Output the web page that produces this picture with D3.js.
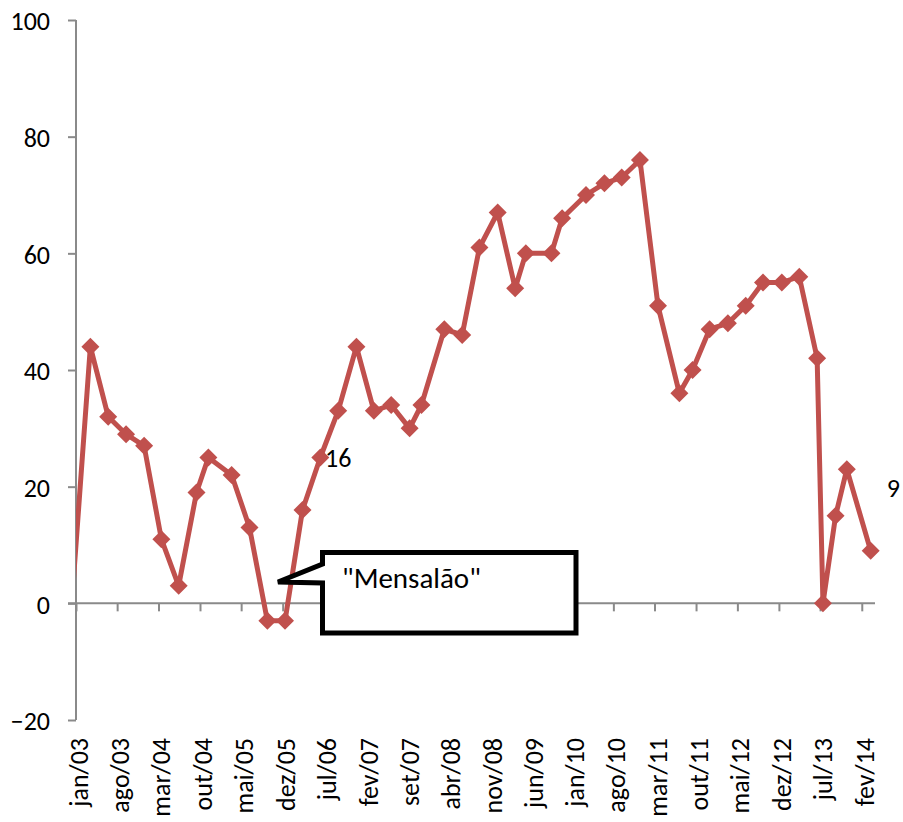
<!DOCTYPE html>
<html>
<head>
<meta charset="utf-8">
<script src="https://cdn.jsdelivr.net/npm/d3@7"></script>
<style>
  html, body { margin: 0; padding: 0; background: #ffffff; }
  svg { display: block; }
  text { font-family: Calibri, Carlito, "Open Sans", sans-serif; fill: #000; }
</style>
</head>
<body>
<svg id="chart" width="903" height="822"></svg>
<script>
// ---------- DATA ----------
const pollDates = [
  "2002-11-16", "2003-03-16", "2003-06-16", "2003-09-16", "2003-12-18",
  "2004-03-16", "2004-06-13", "2004-09-13", "2004-11-13", "2005-03-13",
  "2005-06-13", "2005-09-13", "2005-12-13", "2006-03-13", "2006-06-13",
  "2006-09-13", "2006-12-16", "2007-03-16", "2007-06-13", "2007-09-16",
  "2007-11-16", "2008-03-13", "2008-06-13", "2008-09-10", "2008-12-13",
  "2009-03-13", "2009-05-07", "2009-09-16", "2009-11-10", "2010-03-13",
  "2010-06-16", "2010-09-13", "2010-12-16", "2011-03-19", "2011-07-07",
  "2011-09-13", "2011-12-10", "2012-03-13", "2012-06-13", "2012-09-10",
  "2012-12-16", "2013-03-16", "2013-06-16", "2013-07-16", "2013-09-19",
  "2013-11-16", "2014-03-19"
];
const netApproval = [
  -11, 44, 32, 29, 27,
  11, 3, 19, 25, 22,
  13, -3, -3, 16, 25,
  33, 44, 33, 34, 30,
  34, 47, 46, 61, 67,
  54, 60, 60, 66, 70,
  72, 73, 76, 51, 36,
  40, 47, 48, 51, 55,
  55, 56, 42, 0, 15,
  23, 9
];
const tickDates = [
  "2003-01-01", "2003-08-01", "2004-03-01", "2004-10-01", "2005-05-01",
  "2005-12-01", "2006-07-01", "2007-02-01", "2007-09-01", "2008-04-01",
  "2008-11-01", "2009-06-01", "2010-01-01", "2010-08-01", "2011-03-01",
  "2011-10-01", "2012-05-01", "2012-12-01", "2013-07-01", "2014-02-01"
];
const tickLabels = [
  "jan/03", "ago/03", "mar/04", "out/04", "mai/05",
  "dez/05", "jul/06", "fev/07", "set/07", "abr/08",
  "nov/08", "jun/09", "jan/10", "ago/10", "mar/11",
  "out/11", "mai/12", "dez/12", "jul/13", "fev/14"
];
const yTicks = [-20, 0, 20, 40, 60, 80, 100];
const xDomain = ["2003-01-01", "2014-04-05"];
const yDomain = [-20, 100];
const calloutText = "\"Mensalão\"";
const strayLabel = "16";
const lastLabel = "9";

// ---------- SETUP ----------
const parse = d3.timeParse("%Y-%m-%d");
const points = pollDates.map((d, i) => ({ date: parse(d), value: netApproval[i] }));

const svg = d3.select("#chart");
const pLeft = 76, pRight = 874, pTop = 20, pBottom = 720;

const x = d3.scaleTime().domain(xDomain.map(parse)).range([pLeft, pRight]);
const y = d3.scaleLinear().domain(yDomain).range([pBottom, pTop]);

const axisColor = "#8a8a8a";
const lineColor = "#C0504D";
const fontSize = "26px";

// ---------- AXES ----------
const yAxis = d3.axisLeft(y).tickValues(yTicks).tickSize(8).tickFormat(d3.format("d"));
const gy = svg.append("g").attr("transform", `translate(${pLeft},0)`).call(yAxis);
gy.select(".domain").attr("stroke", axisColor).attr("stroke-width", 2).attr("d", `M0,${pTop}V${pBottom}`);
gy.selectAll(".tick line").attr("stroke", axisColor).attr("stroke-width", 2);
gy.selectAll(".tick text")
  .attr("x", -26).attr("dy", "0.38em")
  .style("font-size", fontSize).style("font-family", "Calibri, Carlito, 'Open Sans', sans-serif")
  .attr("fill", "#000");

const xAxis = d3.axisBottom(x).tickValues(tickDates.map(parse)).tickSize(8).tickFormat("");
const gx = svg.append("g").attr("transform", `translate(0,${y(0)})`).call(xAxis);
gx.select(".domain").attr("stroke", axisColor).attr("stroke-width", 2).attr("d", `M${pLeft - 8},0H${pRight + 1}`);
gx.selectAll(".tick line").attr("stroke", axisColor).attr("stroke-width", 2);

svg.append("g").selectAll("text")
  .data(tickDates)
  .join("text")
  .attr("transform", (d) => `translate(${x(parse(d)) + 12},738) rotate(-90)`)
  .attr("text-anchor", "end")
  .style("font-size", fontSize)
  .text((d, i) => tickLabels[i]);

// ---------- LINE ----------
svg.append("clipPath").attr("id", "plotclip")
  .append("rect").attr("x", pLeft).attr("y", 0).attr("width", 903 - pLeft).attr("height", 822);

const plot = svg.append("g").attr("clip-path", "url(#plotclip)");
const line = d3.line().x((d) => x(d.date)).y((d) => y(d.value));
plot.append("path")
  .datum(points)
  .attr("fill", "none")
  .attr("stroke", lineColor)
  .attr("stroke-width", 5)
  .attr("stroke-linejoin", "round")
  .attr("d", line);

const diamond = "M0,-9L9,0L0,9L-9,0Z";
plot.selectAll("path.marker")
  .data(points)
  .join("path")
  .attr("class", "marker")
  .attr("d", diamond)
  .attr("transform", (d) => `translate(${x(d.date)},${y(d.value)})`)
  .attr("fill", lineColor);

// ---------- ANNOTATIONS ----------
const last = points[points.length - 1];
svg.append("text")
  .attr("x", x(last.date) + 16).attr("y", y(last.value) - 54)
  .style("font-size", fontSize)
  .text(lastLabel);

svg.append("text")
  .attr("x", 325).attr("y", 467)
  .style("font-size", fontSize)
  .text(strayLabel);

svg.append("path")
  .attr("d", "M322.5,552.5 L576,552.5 L576,633 L322.5,633 L322.5,583 L278,582 L322.5,564 Z")
  .attr("fill", "#ffffff")
  .attr("stroke", "#000")
  .attr("stroke-width", 5)
  .attr("stroke-linejoin", "miter");

svg.append("text")
  .attr("x", 342).attr("y", 588)
  .style("font-size", "29px")
  .text(calloutText);
</script>
</body>
</html>
